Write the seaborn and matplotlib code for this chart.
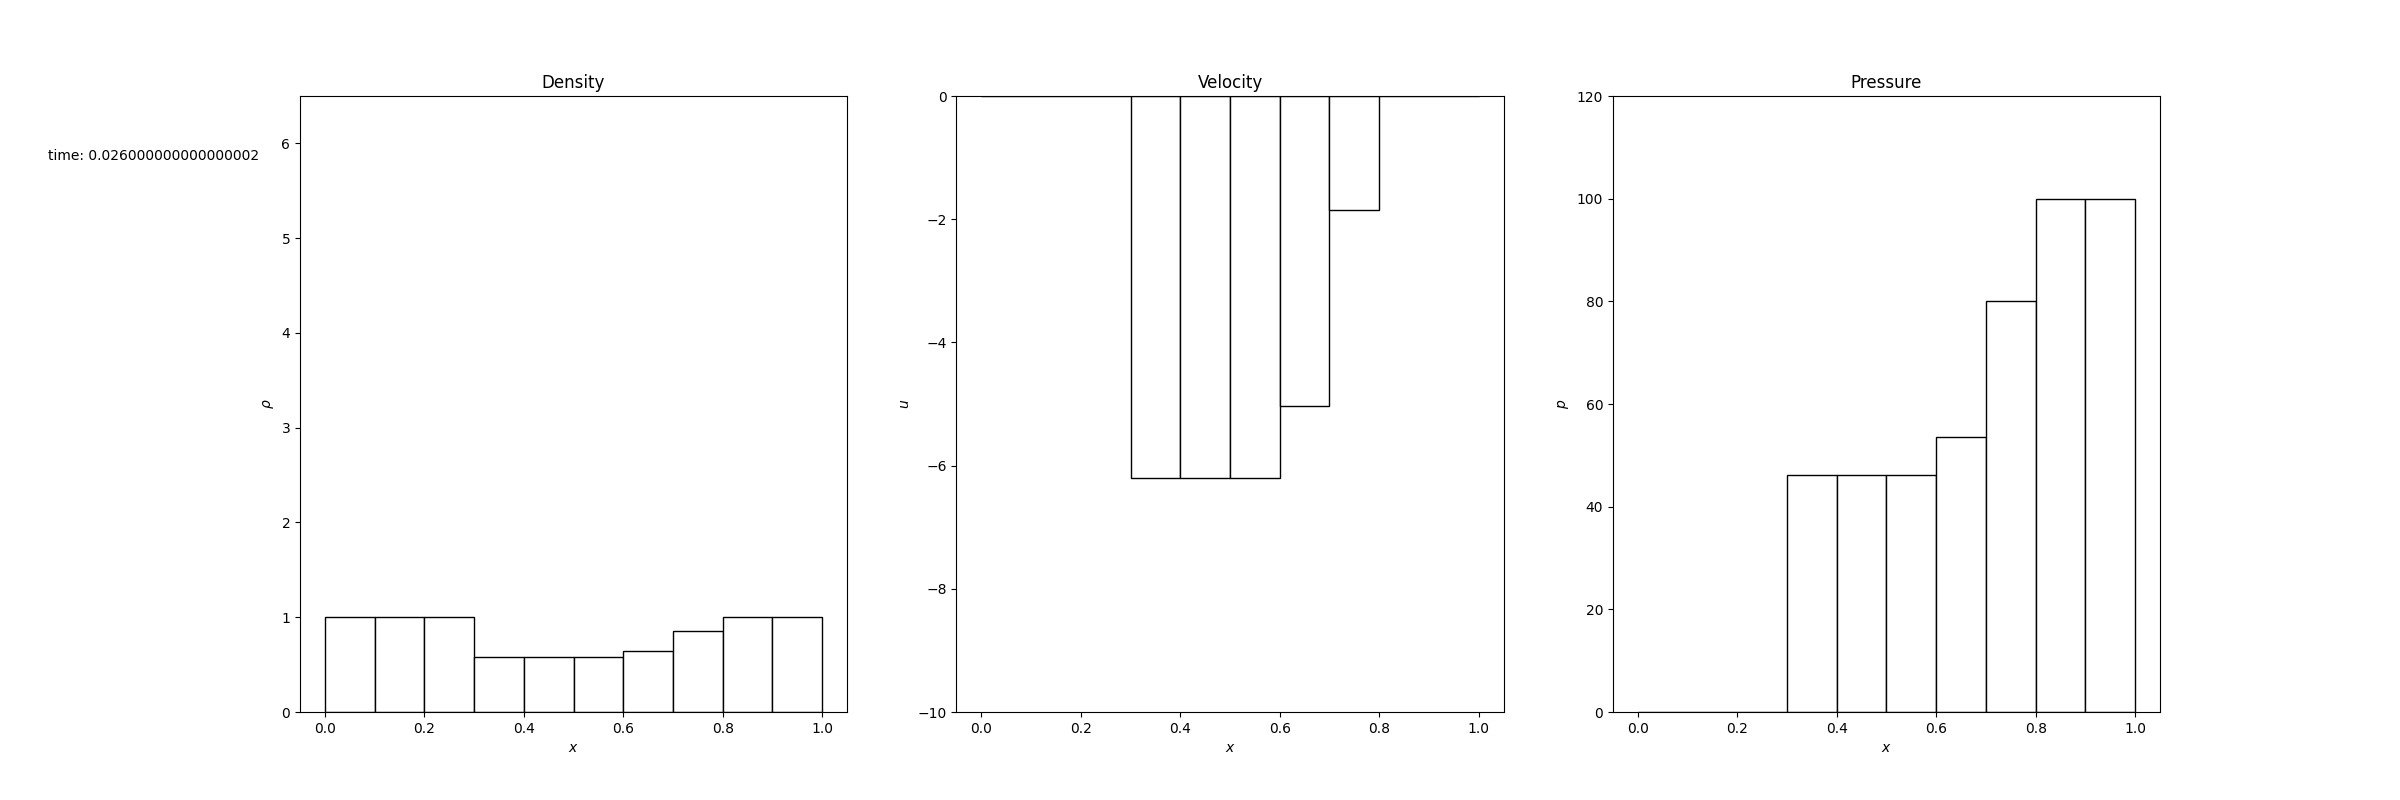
import matplotlib
matplotlib.use("Agg")
import matplotlib.pyplot as plt
import numpy as np
import seaborn as sns

# cell grid of the 1D solver
cell_edges = [0.0, 0.1, 0.2, 0.3, 0.4, 0.5, 0.6, 0.7, 0.8, 0.9, 1.0]
cell_centers = [0.05, 0.15, 0.25, 0.35, 0.45, 0.55, 0.65, 0.75, 0.85, 0.95]

# state per cell
density = [1.0, 1.0, 1.0, 0.579, 0.579, 0.579, 0.642, 0.853, 1.0, 1.0]
velocity = [0.0, 0.0, 0.0, -6.2, -6.2, -6.2, -5.04, -1.855, 0.0, 0.0]
pressure = [0.0, 0.0, 0.0, 46.2, 46.2, 46.2, 53.6, 80.0, 100.0, 100.0]

sim_time = 0.026000000000000002


def draw_panel(ax, values, title, ylabel, ylim):
    sns.histplot(
        x=cell_centers,
        weights=values,
        bins=cell_edges,
        ax=ax,
        color="white",
        edgecolor="black",
        linewidth=1.0,
        alpha=1.0,
    )
    ax.set_title(title)
    ax.set_xlabel("$x$")
    ax.set_ylabel(ylabel)
    ax.set_ylim(*ylim)
    ax.set_xlim(-0.05, 1.05)


fig, axes = plt.subplots(1, 3, figsize=(24, 8), dpi=100)
draw_panel(axes[0], density, "Density", r"$\rho$", (0, 6.5))
draw_panel(axes[1], velocity, "Velocity", "$u$", (-10, 0))
draw_panel(axes[2], pressure, "Pressure", "$p$", (0, 120))

fig.text(0.02, 0.8, f"time: {sim_time!r}")

fig.savefig("out.png", dpi=100)
